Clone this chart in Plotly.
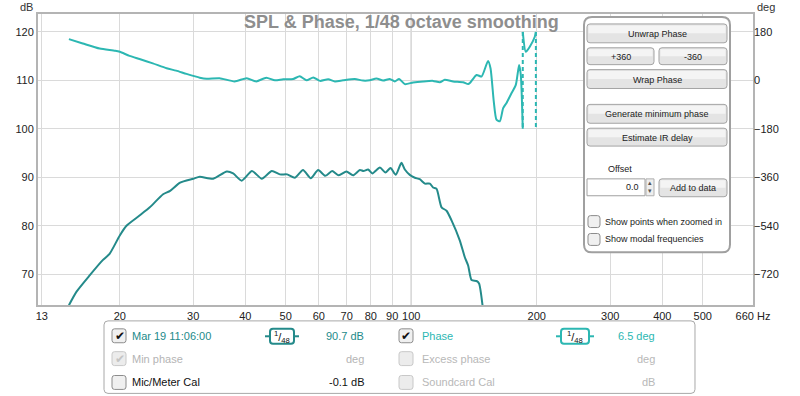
import plotly.graph_objects as go
import math

# ---------------- data ----------------
spl_freq = [15.1, 15.75, 16.95, 18.2, 18.9, 20.0, 20.75, 22.3, 23.6, 25.4, 26.4, 27.9, 30.0, 31.1,
            33.5, 36.1, 37.4, 39.2, 41.5, 43.8, 46.3, 48.4, 50.4, 52.6, 55.0, 57.4, 59.8, 62.2,
            64.6, 67.0, 69.9, 72.5, 75.3, 76.8, 78.8, 80.7, 84.1, 86.7, 89.2, 91.8, 94.7, 96.5,
            99.2, 102.0, 104.8, 107.8, 110.8, 112.8, 115.0, 118.2, 121.5, 124.9, 130.7, 134.4,
            136.9, 139.5, 143.4, 145.4, 148.2]
spl_db = [63.6, 66.4, 69.8, 72.9, 74.2, 78.0, 80.0, 82.1, 83.8, 86.5, 87.2, 88.9, 89.7, 90.1,
          89.7, 91.2, 90.8, 89.3, 91.3, 89.7, 91.3, 90.6, 90.6, 89.9, 91.5, 89.8, 91.5, 90.3,
          91.3, 90.4, 91.2, 90.4, 91.5, 91.3, 91.6, 90.8, 92.0, 91.0, 91.9, 90.5, 93.0, 91.6,
          90.5, 89.9, 89.6, 88.7, 88.7, 87.9, 87.6, 83.8, 83.1, 81.1, 77.0, 73.5,
          71.8, 68.8, 68.6, 68.1, 63.6]

phase_freq = [15.1, 16.3, 17.9, 19.5, 20.0, 21.1, 22.3, 24.0, 25.9, 27.3, 28.9, 31.1, 32.3, 34.7,
              37.7, 40.3, 42.5, 44.9, 47.1, 49.3, 52.1, 54.0, 56.1, 58.2, 60.4, 63.2, 65.6, 68.6,
              73.2, 76.6, 79.5, 82.5, 85.6, 88.8, 91.3, 93.5, 96.5, 101.0, 106.8, 112.8, 117.1,
              120.3, 126.0, 133.1, 136.9, 138.2, 143.4, 147.4, 152.8, 154.9, 157.7, 160.1, 163.1,
              166.1, 169.2, 173.9, 178.1, 181.4, 183.1, 185.1, None, 185.1, 188.2, 192.4, 197.8, 199.0]
phase_deg = [153, 137, 118, 110, 106, 91, 79, 63, 45, 36, 24, 10, 6, 8,
             -4, 8, -4, 10, 0, 4, 5, 15, 0, 11, -2, 4, -4, 0,
             5, -1, 0, 7, -1, 5, -4, 5, -14, -8, -4, -2, -7,
             2, -4, -7, -14, -10, 20, 14, 72, 45, -78, -146, -152,
             -103, -84, -48, -17, 57, 20, -180, None, 180, 106, 125, 162, 180]
wrap_freq = [185.1, 199.0]

x_ticks = [13, 20, 30, 40, 50, 60, 70, 80, 90, 100, 200, 300, 400, 500, 660]
x_ticktext = ["13", "20", "30", "40", "50", "60", "70", "80", "90", "100", "200", "300", "400", "500", "660 Hz"]
db_ticks = [70, 80, 90, 100, 110, 120]
deg_ticks = [-720, -540, -360, -180, 0, 180]

legend_rows = [
    ("Mar 19 11:06:00", "90.7 dB", "Phase", "6.5 deg"),
    ("Min phase", "deg", "Excess phase", "deg"),
    ("Mic/Meter Cal", "-0.1 dB", "Soundcard Cal", "dB"),
]
panel_buttons = ["Unwrap Phase", "+360", "-360", "Wrap Phase", "Generate minimum phase", "Estimate IR delay"]

# ---------------- style ----------------
SPL_COLOR = "#248a8a"
PHASE_COLOR = "#2cb7b2"
FONT = "Liberation Sans, Arial, sans-serif"
W, H = 800, 396
L, R, T, B = 38, 753, 12, 305
PANEL_FS = 9


def PX(x):
    return (x - L) / (R - L)


def PY(y):
    return (B - y) / (B - T)


def P(x, y):
    return f"{PX(x):.5f},{PY(y):.5f}"


shapes = []
annots = []


def rrect(x0, y0, x1, y1, r, fill, line, lw=1.0):
    path = (f"M {P(x0 + r, y0)} L {P(x1 - r, y0)} Q {P(x1, y0)} {P(x1, y0 + r)} "
            f"L {P(x1, y1 - r)} Q {P(x1, y1)} {P(x1 - r, y1)} L {P(x0 + r, y1)} "
            f"Q {P(x0, y1)} {P(x0, y1 - r)} L {P(x0, y0 + r)} Q {P(x0, y0)} {P(x0 + r, y0)} Z")
    shapes.append(dict(type="path", xref="paper", yref="paper", path=path,
                       fillcolor=fill, line=dict(color=line, width=lw), layer="above"))


def rect(x0, y0, x1, y1, fill, line=None, lw=0):
    shapes.append(dict(type="rect", xref="paper", yref="paper", x0=PX(x0), x1=PX(x1),
                       y0=PY(y1), y1=PY(y0), fillcolor=fill,
                       line=dict(color=line or fill, width=lw), layer="above"))


def hline(x0, x1, y, color, lw=1):
    shapes.append(dict(type="line", xref="paper", yref="paper", x0=PX(x0), x1=PX(x1),
                       y0=PY(y), y1=PY(y), line=dict(color=color, width=lw), layer="above"))


def text(x, y, s, size=11, color="#222", anchor="left", family=FONT, bold=False):
    annots.append(dict(xref="paper", yref="paper", x=PX(x), y=PY(y), text=("<b>%s</b>" % s) if bold else s,
                       showarrow=False, xanchor=anchor, yanchor="middle",
                       font=dict(family=family, size=size, color=color)))


def button(x0, y0, x1, y1, label):
    rrect(x0, y0, x1, y1, 3, "#e4e4e4", "#a4a4a4", 1)
    rect(x0 + 1.5, y0 + 1.5, x1 - 1.5, (y0 + y1) / 2, "#f4f4f4")
    text((x0 + x1) / 2, (y0 + y1) / 2 + 0.5, label, size=PANEL_FS, anchor="center")


def checkbox(x0, y0, size, checked=False, enabled=True):
    rrect(x0, y0, x0 + size, y0 + size, 2.5, "#f0f0f0" if enabled else "#ececec",
          "#8c8c8c" if enabled else "#c8c8c8", 1)
    if checked:
        text(x0 + size / 2 + 0.5, y0 + size / 2, "✔", size=12,
             color="#111" if enabled else "#c4c4c4", anchor="center", family="DejaVu Sans")


# ---- control panel (top right) ----
rrect(584, 15, 730, 252, 8, "#ffffff", "#a0a0a0", 2)
button(587, 22, 727, 41, panel_buttons[0])
button(587, 46, 654, 63, panel_buttons[1])
button(659, 46, 727, 63, panel_buttons[2])
button(587, 68, 727, 87, panel_buttons[3])
button(587, 103, 727, 122, panel_buttons[4])
button(587, 127, 727, 145, panel_buttons[5])
text(620, 168, "Offset", size=PANEL_FS, anchor="center")
rect(587, 178, 645, 195, "#ffffff", "#a0a0a0", 1)
text(641, 186.5, "0.0", size=PANEL_FS, anchor="right")
rect(646, 178, 654, 195, "#eeeeee", "#b0b0b0", 1)
text(650, 182.5, "▴", size=7, color="#555", anchor="center", family="DejaVu Sans")
text(650, 190.5, "▾", size=7, color="#555", anchor="center", family="DejaVu Sans")
button(659, 178, 727, 196, "Add to data")
checkbox(588, 215, 12)
text(603, 221, "Show points when zoomed in", size=PANEL_FS)
checkbox(588, 233, 12)
text(603, 239, "Show modal frequencies", size=PANEL_FS)

# ---- bottom legend panel ----
rrect(104, 321, 695, 394, 4, "#ffffff", "#a8a8a8", 1)
row_y = [336, 359, 383]
left_colors = [SPL_COLOR, "#b4b4b4", "#111111"]
right_colors = [PHASE_COLOR, "#b8b8b8", "#b8b8b8"]
for i, (ln, lv, rn, rv) in enumerate(legend_rows):
    y = row_y[i]
    checkbox(112, y - 7, 14, checked=(i < 2), enabled=(i != 1))
    text(130, y, ln, size=11, color=left_colors[i])
    text(366, y, lv, size=11, color=left_colors[i], anchor="right")
    checkbox(399, y - 7, 14, checked=(i == 0), enabled=(i == 0))
    text(420, y, rn, size=11, color=right_colors[i])
    text(657, y, rv, size=11, color=right_colors[i], anchor="right")

for (bx0, bx1, col) in [(270, 294, SPL_COLOR), (561, 589, PHASE_COLOR)]:
    hline(bx0 - 5, bx0, 336.5, col, 2)
    hline(bx1, bx1 + 5, 336.5, col, 2)
    rrect(bx0, 329, bx1, 344, 3, "#ffffff", col, 2)
    text((bx0 + bx1) / 2, 337, "<sup>1</sup>/<sub>48</sub>", size=11, color="#111", anchor="center")

# ---- title and axis unit labels ----
text(401, 20, "SPL &amp; Phase, 1/48 octave smoothing", size=18, color="#8e8e8e", anchor="center", bold=True)
text(26, 5, "dB", size=11, color="#333", anchor="center")
text(755, 5, "deg", size=11, color="#333", anchor="left")

# 100 Hz marker gridline (darker)
shapes.append(dict(type="line", xref="x", yref="paper", x0=100, x1=100, y0=0, y1=1,
                   line=dict(color="#8c8c8c", width=1), layer="between"))

# ---------------- figure ----------------
fig = go.Figure()
fig.add_trace(go.Scatter(x=spl_freq, y=spl_db, mode="lines",
                         line=dict(color=SPL_COLOR, width=2, shape="spline", smoothing=0.6),
                         hoverinfo="skip"))
fig.add_trace(go.Scatter(x=phase_freq, y=phase_deg, mode="lines", yaxis="y2", connectgaps=False,
                         line=dict(color=PHASE_COLOR, width=2, shape="spline", smoothing=0.6),
                         hoverinfo="skip"))
for wf in wrap_freq:
    fig.add_trace(go.Scatter(x=[wf, wf], y=[deg_ticks[-1], -deg_ticks[-1]], mode="lines", yaxis="y2",
                             line=dict(color=PHASE_COLOR, width=2, dash="4px,3px"), hoverinfo="skip"))

fig.update_layout(
    width=W, height=H, autosize=False,
    margin=dict(l=L, r=W - R, t=T, b=H - B),
    paper_bgcolor="#ffffff", plot_bgcolor="#ffffff",
    showlegend=False,
    font=dict(family=FONT, size=11, color="#222"),
    xaxis=dict(type="log", range=[math.log10(12.73), math.log10(660)],
               tickvals=x_ticks, ticktext=x_ticktext, tickfont=dict(size=11, color="#222"),
               showgrid=True, gridcolor="#dadada", gridwidth=1, zeroline=False,
               showline=True, mirror=True, linecolor="#b4b4b4", linewidth=2, ticks=""),
    yaxis=dict(range=[63.65, 123.69], tickvals=db_ticks, tickfont=dict(size=11, color="#222"),
               showgrid=True, gridcolor="#dadada", gridwidth=1, zeroline=False,
               showline=True, mirror=True, linecolor="#b4b4b4", linewidth=2, ticks=""),
    yaxis2=dict(range=[-834.4, 246.4], tickvals=deg_ticks, overlaying="y", side="right",
                tickfont=dict(size=11, color="#222"), showgrid=False, zeroline=False,
                showline=False, ticks=""),
    shapes=shapes, annotations=annots,
)

fig.write_html("out.html", config={"displayModeBar": False, "staticPlot": True},
               post_script="document.body.style.margin='0';")
